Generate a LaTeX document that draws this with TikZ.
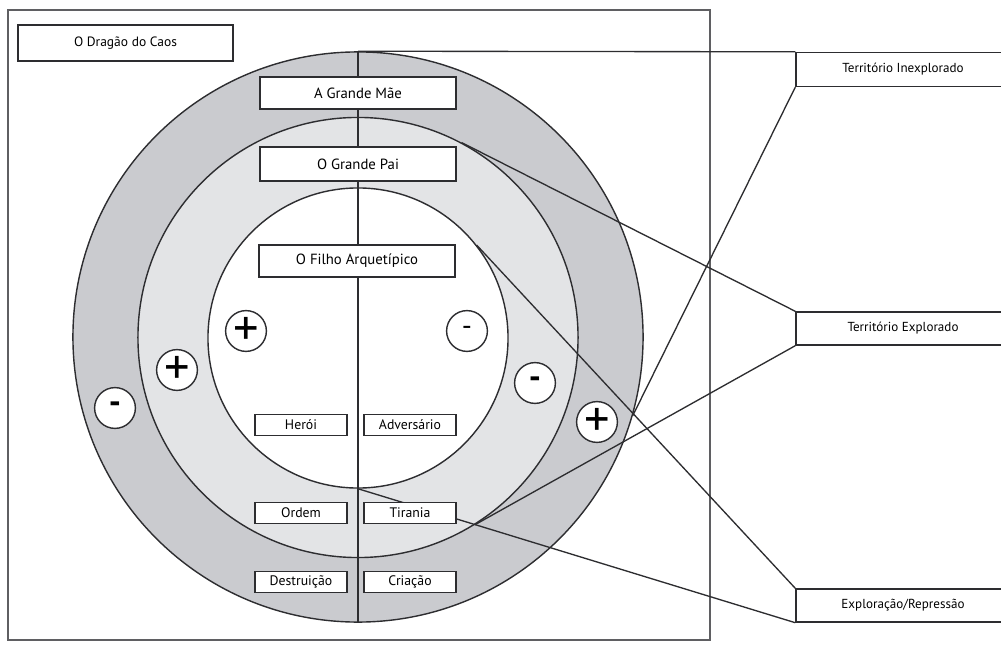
\documentclass[tikz,border=0pt]{standalone}
\usepackage{fontspec}
\usepackage{xcolor}
\usepackage{tikz}
\usetikzlibrary{positioning,calc}
\newfontfamily\labfont{PT Sans}
\definecolor{RingOut}{RGB}{202,203,207}
\definecolor{RingMid}{RGB}{227,228,230}
\definecolor{Ink}{RGB}{45,45,48}
\definecolor{Frame}{RGB}{95,95,98}
\tikzset{
  ring/.style={circle,draw=Ink,line width=1pt,inner sep=0pt},
  bigbox/.style={draw=Ink,fill=white,line width=1pt,minimum width=4.9cm,
                 minimum height=0.8cm,inner sep=0pt,font=\labfont\fontsize{10.5}{11}\selectfont},
  smallbox/.style={draw=Ink,fill=white,line width=0.9pt,minimum width=2.3cm,
                   minimum height=0.53cm,inner sep=0pt,font=\labfont\fontsize{9.8}{10}\selectfont},
  sidebox/.style={draw=Ink,fill=white,line width=1pt,minimum width=5.35cm,
                  minimum height=0.85cm,inner sep=0pt,font=\labfont\fontsize{9.3}{10}\selectfont},
  sign/.style={circle,draw=Ink,fill=white,line width=1pt,minimum size=1.02cm,inner sep=0pt,
               font=\labfont\fontsize{36}{36}\selectfont},
  link/.style={draw=Ink,line width=0.95pt},
}
\begin{document}
\begin{tikzpicture}[x=0.025cm,y=-0.025cm]
  \useasboundingbox (0,0) rectangle (1001,650);
  % frame and title
  \draw[Frame,line width=1pt] (8,10) rectangle (710,640);
  \node[sidebox,minimum width=5.375cm,minimum height=0.9cm,
        font=\labfont\fontsize{9.6}{10}\selectfont] (dragon) at (125.5,43) {O Dragão do Caos};
  % rings
  \node[ring,fill=RingOut,minimum size=14.25cm] (outer) at (358,337) {};
  \node[ring,fill=RingMid,minimum size=11cm] (middle) at (358,337.5) {};
  \node[ring,fill=white,minimum size=7.5cm] (inner) at (358,338) {};
  \draw[link] (outer.north) -- (outer.south);
  % territories
  \node[sidebox] (inexp) at (903,69.5) {Território Inexplorado};
  \node[sidebox,minimum height=0.825cm] (explo) at (903,328.5) {Território Explorado};
  \node[sidebox,minimum height=0.825cm] (repr) at (903,605.5) {Exploração/Repressão};
  \draw[link] (outer.north) -- (inexp.north west);
  \draw[link] (inexp.south west) -- (outer.-16);
  \draw[link] (explo.north west) -- (middle.62);
  \draw[link] (explo.south west) -- (middle.-58);
  \draw[link] (repr.north west) -- (inner.38);
  \draw[link] (repr.south west) -- (inner.south);
  % figures
  \node[bigbox] (mother) at (358,93) {A Grande Mãe};
  \node[bigbox,minimum height=0.85cm] (father) at (358,164) {O Grande Pai};
  \node[bigbox] (son) at (357,261) {O Filho Arquetípico};
  \node[smallbox] (hero) at (301,425) {Herói};
  \node[smallbox] (enemy) at (410,425) {Adversário};
  \node[smallbox] (order) at (301,513) {Ordem};
  \node[smallbox] (tyranny) at (410,513) {Tirania};
  \node[smallbox] (destr) at (301,582) {Destruição};
  \node[smallbox] (creat) at (410,582) {Criação};
  % signs
  \node[sign] (pA) at (246,331) {+};
  \node[sign] (pB) at (177,370) {+};
  \node[sign,font=\labfont\bfseries\fontsize{24}{24}\selectfont] (mA) at (115,408) {-};
  \node[sign,font=\labfont\fontsize{20}{20}\selectfont] (mB) at (467,331) {-};
  \node[sign,font=\labfont\bfseries\fontsize{24}{24}\selectfont] (mC) at (535,383) {-};
  \node[sign] (pC) at (597,422) {+};
\end{tikzpicture}
\end{document}
